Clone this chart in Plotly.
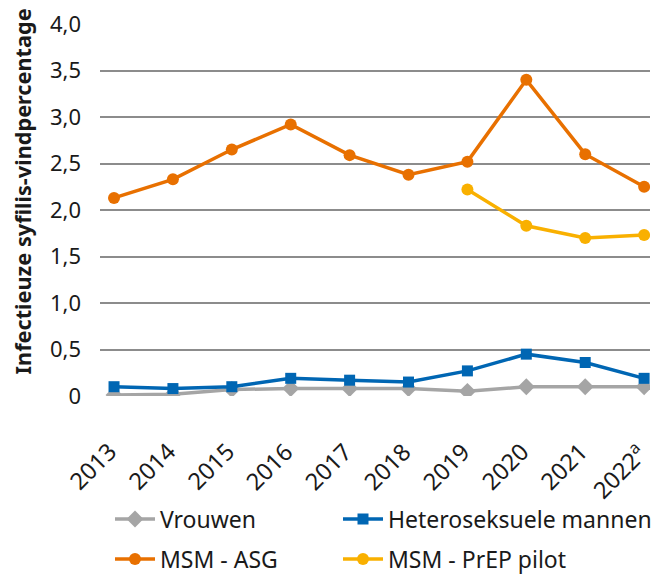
import plotly.graph_objects as go

years = [2013, 2014, 2015, 2016, 2017, 2018, 2019, 2020, 2021, 2022]
year_labels = ["2013", "2014", "2015", "2016", "2017", "2018", "2019", "2020", "2021", "2022<sup>a</sup>"]
vrouwen = [0.01, 0.02, 0.07, 0.08, 0.08, 0.08, 0.05, 0.10, 0.10, 0.10]
hetero_mannen = [0.10, 0.08, 0.10, 0.19, 0.17, 0.15, 0.27, 0.45, 0.36, 0.19]
msm_asg = [2.13, 2.33, 2.65, 2.92, 2.59, 2.38, 2.52, 3.40, 2.60, 2.25]
prep_years = [2019, 2020, 2021, 2022]
msm_prep = [2.22, 1.83, 1.70, 1.73]
y_ticks = [0, 0.5, 1.0, 1.5, 2.0, 2.5, 3.0, 3.5, 4.0]
y_ticklabels = ["0", "0,5", "1,0", "1,5", "2,0", "2,5", "3,0", "3,5", "4,0"]

FONT = "Noto Sans"
TXT = "#1a1a1a"
fig = go.Figure()

def add(name, x, y, color, symbol, size, legend):
    fig.add_trace(go.Scatter(
        x=x, y=y, name=name, mode="lines+markers",
        line=dict(color=color, width=3.5),
        marker=dict(color=color, symbol=symbol, size=size),
        legend=legend,
    ))

add("Vrouwen", years, vrouwen, "#A5A5A5", "diamond", 13, "legend")
add("Heteroseksuele mannen", years, hetero_mannen, "#0066B3", "square", 11, "legend2")
add("MSM - ASG", years, msm_asg, "#E87000", "circle", 12, "legend3")
add("MSM - PrEP pilot", prep_years, msm_prep, "#F9B000", "circle", 12, "legend4")

def leg(xleft, ymid):
    return dict(
        orientation="h", xref="container", yref="container",
        x=xleft / 652, xanchor="left", y=1 - ymid / 575, yanchor="middle",
        font=dict(family=FONT, size=23, color=TXT),
        itemwidth=40, bgcolor="rgba(0,0,0,0)",
    )

annotations = [dict(
    text="<b>Infectieuze syfilis-vindpercentage</b>",
    xref="paper", yref="paper", x=-78 / 550, y=0.55,
    xanchor="center", yanchor="middle", textangle=-90,
    showarrow=False, font=dict(family=FONT, size=21.7, color=TXT),
)]
# x-axis category labels, placed on the x scale (rotated like the original)
for yr, lab in zip(years, year_labels):
    annotations.append(dict(
        text=lab, xref="x", yref="paper", x=yr, y=0,
        xanchor="right", yanchor="top", textangle=-45,
        xshift=12, yshift=-37, showarrow=False,
        font=dict(family=FONT, size=23.5, color=TXT),
    ))

fig.update_layout(
    width=652, height=575,
    margin=dict(l=100, r=2, t=24, b=179, autoexpand=False),
    paper_bgcolor="white", plot_bgcolor="white",
    font=dict(family=FONT, size=22, color=TXT),
    showlegend=True,
    legend=leg(110, 519),
    legend2=leg(338, 519),
    legend3=leg(110, 559),
    legend4=leg(338, 559),
    xaxis=dict(
        range=[2012.762, 2022.10],
        tickvals=years, showticklabels=False,
        showgrid=False, zeroline=False, showline=False, automargin=False,
        ticks="",
    ),
    yaxis=dict(
        range=[0, 4.0], tickvals=y_ticks, ticktext=y_ticklabels,
        showgrid=True, gridcolor="#8c8c8c", gridwidth=1.5, automargin=False,
        zeroline=False, showline=False, ticks="", ticklabelstandoff=18,
        tickfont=dict(size=22, color=TXT),
    ),
    annotations=annotations,
)

fig.write_html("out.html", config={"displayModeBar": False},
               post_script="document.body.style.margin='0';")
